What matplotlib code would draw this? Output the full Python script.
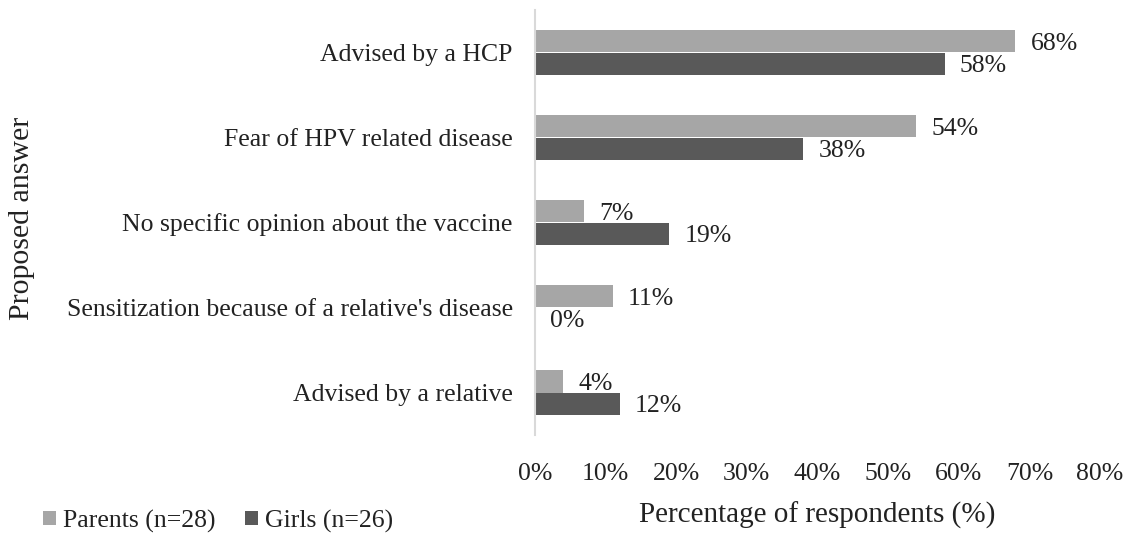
import matplotlib
import matplotlib.pyplot as plt
import numpy as np
from matplotlib.ticker import PercentFormatter

matplotlib.use('Agg')

answers = [
    "Advised by a HCP",
    "Fear of HPV related disease",
    "No specific opinion about the vaccine",
    "Sensitization because of a relative's disease",
    "Advised by a relative",
]
parents = [68, 54, 7, 11, 4]
girls = [58, 38, 19, 0, 12]
series_names = ["Parents (n=28)", "Girls (n=26)"]

plt.rcParams['font.family'] = ['Liberation Serif', 'DejaVu Serif']
txt = '#222222'
fs = 18.5

fig = plt.figure(figsize=(11.29, 5.34), dpi=100)
# axes box in pixels: x 535..1100, y 10..435 (from top)
ax = fig.add_axes([535 / 1129, 1 - 435 / 534, 565 / 1129, 425 / 534])

y = np.arange(len(answers))
h = 0.26
b1 = ax.barh(y - h / 2, parents, h, color='#a6a6a6', label=series_names[0])
b2 = ax.barh(y + h / 2, girls, h, color='#595959', label=series_names[1])

for rects in (b1, b2):
    for r in rects:
        v = r.get_width()
        ax.annotate(f"{v:.0f}%", (v, r.get_y() + r.get_height() / 2),
                    xytext=(11, -2), textcoords='offset points',
                    ha='left', va='center', fontsize=fs, color=txt)

ax.set_ylim(len(answers) - 0.5, -0.5)
ax.set_xlim(0, 80)
ax.set_xticks(np.arange(0, 81, 10))
ax.xaxis.set_major_formatter(PercentFormatter(decimals=0))
ax.set_yticks(y, answers)

for s in ('top', 'right', 'bottom'):
    ax.spines[s].set_visible(False)
ax.spines['left'].set_color('#d9d9d9')
ax.spines['left'].set_linewidth(1.5)
ax.tick_params(axis='both', length=0, labelsize=fs, colors=txt)
ax.tick_params(axis='x', pad=20)
ax.tick_params(axis='y', pad=16)

ax.set_xlabel("Percentage of respondents (%)", fontsize=21, color=txt, labelpad=12)
fig.text(22 / 1129, 1 - 218 / 534, "Proposed answer", rotation=90,
         ha='center', va='center', fontsize=21.5, color=txt)

fig.legend(handles=[b1, b2], labels=series_names, loc='center left',
           bbox_to_anchor=(43 / 1129, 1 - 521 / 534), ncols=2, frameon=False,
           fontsize=fs, handlelength=0.5, handleheight=0.5, handletextpad=0.27,
           columnspacing=1.15, borderpad=0, borderaxespad=0, labelcolor=txt)

fig.savefig('out.png', dpi=100)
